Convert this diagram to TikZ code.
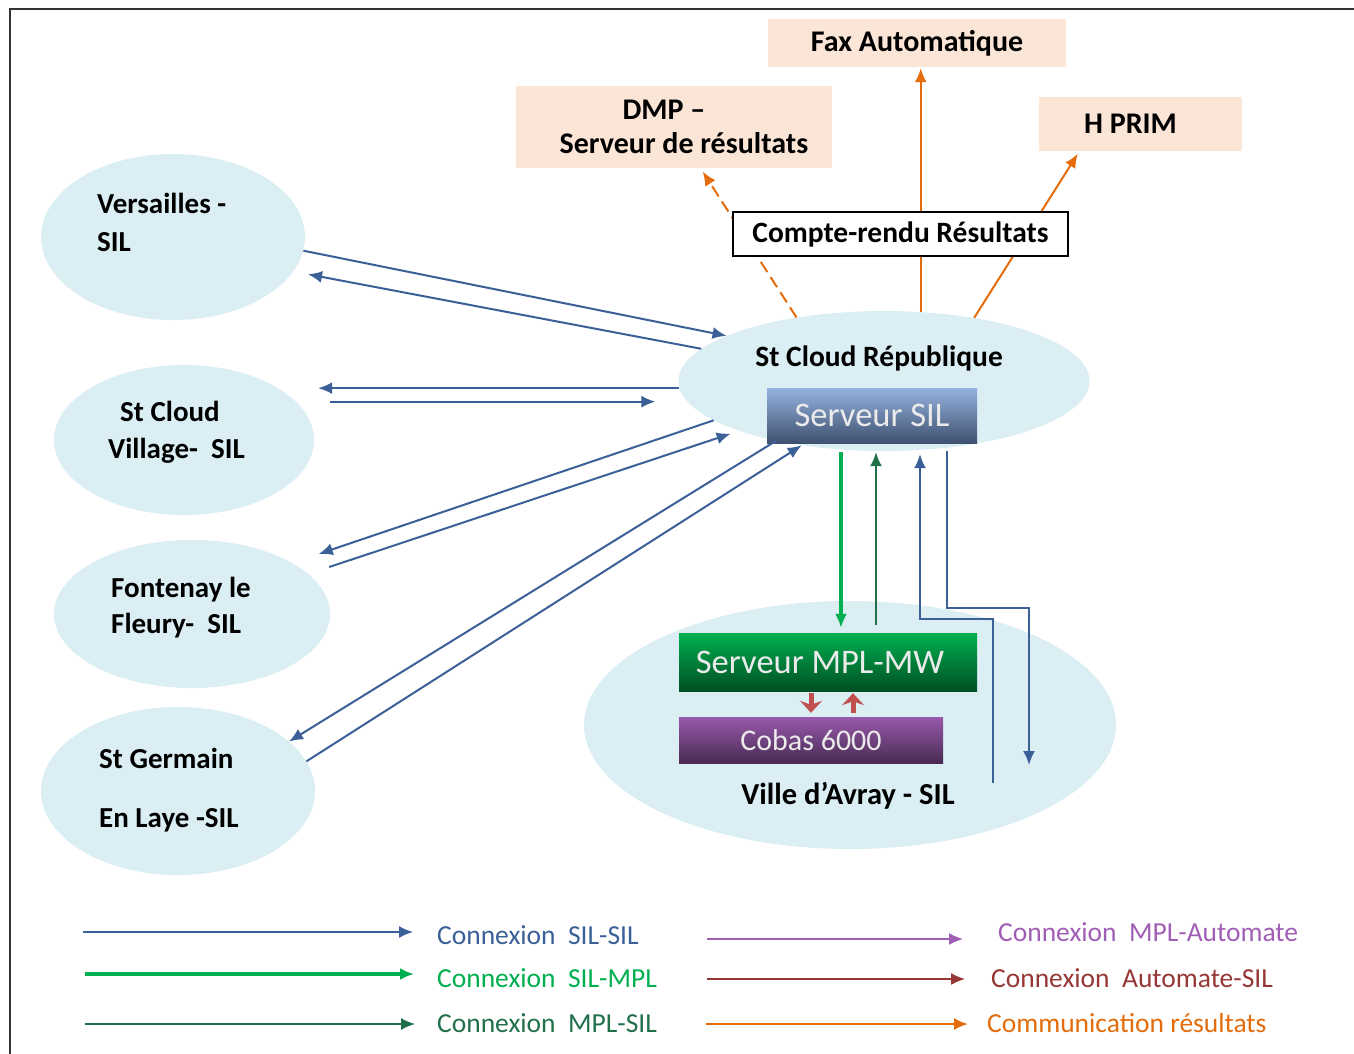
\documentclass[tikz,border=0pt]{standalone}
\usepackage{fontspec}
\setmainfont{Carlito}
\usetikzlibrary{shapes.geometric,arrows.meta}

\definecolor{ellfill}{HTML}{DAEEF3}
\definecolor{peach}{HTML}{FBE5D6}
\definecolor{silblue}{HTML}{3B6098}
\definecolor{siltop}{HTML}{95B3DF}
\definecolor{silbot}{HTML}{3F5170}
\definecolor{mplgreen}{HTML}{00B050}
\definecolor{darkgreen}{HTML}{22704A}
\definecolor{autpurple}{HTML}{A05EB5}
\definecolor{autbrown}{HTML}{953735}
\definecolor{resorange}{HTML}{E46C0A}
\definecolor{autred}{HTML}{C0504D}

\tikzset{
  site/.style={ellipse, fill=ellfill, inner sep=0pt},
  lbl/.style={anchor=base west, inner sep=0pt, font=\fontsize{29}{32}\selectfont\bfseries},
  peachbox/.style={fill=peach, inner sep=0pt, align=center, font=\fontsize{30}{34}\selectfont\bfseries},
  srv/.style={inner sep=0pt, text=white!92!black, font=\fontsize{34.5}{38}\selectfont},
  key/.style={anchor=base west, inner sep=0pt, font=\fontsize{27.5}{30}\selectfont},
  silsil/.style={->, draw=silblue, line width=2pt},
  silmpl/.style={->, draw=mplgreen, line width=3.5pt},
  mplsil/.style={->, draw=darkgreen, line width=2pt},
  mplaut/.style={->, draw=autpurple, line width=1.5pt},
  autsil/.style={->, draw=autbrown, line width=1.5pt},
  res/.style={->, draw=resorange, line width=2pt},
  redarr/.style={-{Stealth[length=12pt,width=22pt,inset=4pt]}, draw=autred, fill=autred, line width=5pt}
}

\begin{document}
\begin{tikzpicture}[x=1pt, y=-1pt, >={Latex[length=14pt,width=12pt]}]
\useasboundingbox (0,0) rectangle (1354,1054);
\draw[line width=2pt, black!80] (1354,9.5) -- (9.5,9.5) -- (9.5,1054);

\node[site, minimum width=264pt, minimum height=166pt] (vers) at (173,237) {};
\node[site, minimum width=260pt, minimum height=150pt] (vil) at (184,440) {};
\node[site, minimum width=276pt, minimum height=148pt] (fon) at (192,614) {};
\node[site, minimum width=274pt, minimum height=168pt] (ger) at (178,791) {};
\node[site, minimum width=411pt, minimum height=140pt] (rep) at (884,381) {};
\node[site, minimum width=532pt, minimum height=248pt] (avr) at (850,725) {};

\node[lbl] (versA) at (97,213) {Versailles -};
\node[lbl] (versB) at (97,251) {SIL};
\node[lbl] (vilA) at (120,421) {St Cloud};
\node[lbl] (vilB) at (108,458) {Village-~ SIL};
\node[lbl] (fonA) at (111,597) {Fontenay le};
\node[lbl] (fonB) at (111,633) {Fleury-~ SIL};
\node[lbl] (gerA) at (99,768) {St Germain};
\node[lbl] (gerB) at (99,827) {En Laye -SIL};
\node[lbl, anchor=base, font=\fontsize{29.5}{32}\selectfont\bfseries] (repT) at (879,366) {St Cloud République};
\node[lbl, anchor=base, font=\fontsize{30.5}{32}\selectfont\bfseries] (avrT) at (848,804) {Ville d’Avray - SIL};

\node[srv, top color=siltop, bottom color=silbot, minimum width=210pt, minimum height=55pt] (sil) at (872,415.5) {Serveur SIL};
\node[srv, top color=mplgreen, bottom color=mplgreen!45!black, minimum width=298pt, minimum height=58pt] (mpl) at (828,662) {Serveur MPL-MW\hspace*{16pt}};
\node[srv, top color=autpurple!95!black, bottom color=autpurple!45!black, minimum width=264pt, minimum height=46pt, font=\fontsize{30}{34}\selectfont] (cobas) at (811,740) {Cobas 6000};

\node[peachbox, minimum width=298pt, minimum height=48pt] (fax) at (917,43) {Fax Automatique};
\node[peachbox, minimum width=316pt, minimum height=82pt] (dmp) at (674,127) {DMP --\hspace*{20pt}\\\hspace*{20pt}Serveur de résultats};
\node[peachbox, minimum width=203pt, minimum height=54pt] (hprim) at (1140.5,124) {H PRIM\hspace*{20pt}};

\draw[silsil] (vers.-6) -- (rep.164);
\draw[silsil, shorten >=15pt] (rep.170) -- (vers.-16);
\draw[silsil, shorten >=4pt] (rep.182) -- (rep.182 -| vil.east);
\draw[silsil, shorten <=16pt, shorten >=32pt] (vil.east |- rep.186) -- (rep.186);
\draw[silsil, shorten >=28pt] (rep.193) -- (fon.27);
\draw[silsil, shorten <=22pt, shorten >=9pt] (fon.19) -- (rep.199);
\draw[silsil] (rep.209) -- (ger.24);
\draw[silsil] (ger.13) -- (rep.218);

\coordinate (gdown) at ([xshift=-31pt]sil.south);
\coordinate (gup) at ([xshift=4pt]sil.south);
\draw[silmpl, shorten <=9pt, shorten >=5pt] (gdown) -- (gdown |- mpl.north);
\draw[mplsil, shorten <=8pt, shorten >=9pt] (gup |- mpl.north) -- (gup);

\coordinate (bup) at ([xshift=48pt]sil.south);
\coordinate (bdn) at ([xshift=75pt]sil.south);
\coordinate (bA) at (993,783);
\coordinate (bB) at (920,619);
\coordinate (bC) at (1029,765);
\draw[silsil, shorten >=11pt] (bA) |- (bB) -- (bup);
\draw[silsil, shorten <=8pt] (bdn) -- ++(0,165) -| (bC);

\coordinate (rd) at ([xshift=-17pt]mpl.south);
\coordinate (ru) at ([xshift=25pt]mpl.south);
\draw[redarr, shorten <=2pt, shorten >=4pt] (rd) -- (rd |- cobas.north);
\draw[redarr, shorten <=4pt, shorten >=2pt] (ru |- cobas.north) -- (ru);

\draw[res, dashed, dash pattern=on 12pt off 6pt, shorten >=4pt] (rep.144) -- (dmp);
\draw[res, shorten >=1pt] (rep.62) -- (rep.62 |- fax.south);
\draw[res, shorten >=3pt] (rep.35) -- (hprim.204);

\node[draw=black, line width=2pt, fill=white, inner sep=0pt, minimum width=335pt, minimum height=44pt, font=\fontsize{29.5}{32}\selectfont\bfseries] (cr) at (900.5,234) {Compte-rendu Résultats};

\coordinate (k1a) at (83,932);
\coordinate (k2a) at (85,974);
\coordinate (k3a) at (85,1024);
\coordinate (k4a) at (707,939);
\coordinate (k5a) at (707,979);
\coordinate (k6a) at (706,1024);
\node[key, text=silblue] (k1) at (437,944) {Connexion~ SIL-SIL};
\node[key, text=mplgreen] (k2) at (437,987) {Connexion~ SIL-MPL};
\node[key, text=darkgreen] (k3) at (437,1032) {Connexion~ MPL-SIL};
\node[key, text=autpurple] (k4) at (998,941) {Connexion~ MPL-Automate};
\node[key, text=autbrown] (k5) at (991,987) {Connexion~ Automate-SIL};
\node[key, text=resorange] (k6) at (987,1032) {Communication résultats};
\draw[silsil, line width=1.5pt, shorten >=24pt] (k1a) -- (k1a -| k1.west);
\draw[silmpl, shorten >=23pt] (k2a) -- (k2a -| k2.west);
\draw[mplsil, line width=1.5pt, shorten >=22pt] (k3a) -- (k3a -| k3.west);
\draw[mplaut, shorten >=35pt] (k4a) -- (k4a -| k4.west);
\draw[autsil, shorten >=26pt] (k5a) -- (k5a -| k5.west);
\draw[res, shorten >=19pt] (k6a) -- (k6a -| k6.west);
\end{tikzpicture}
\end{document}
